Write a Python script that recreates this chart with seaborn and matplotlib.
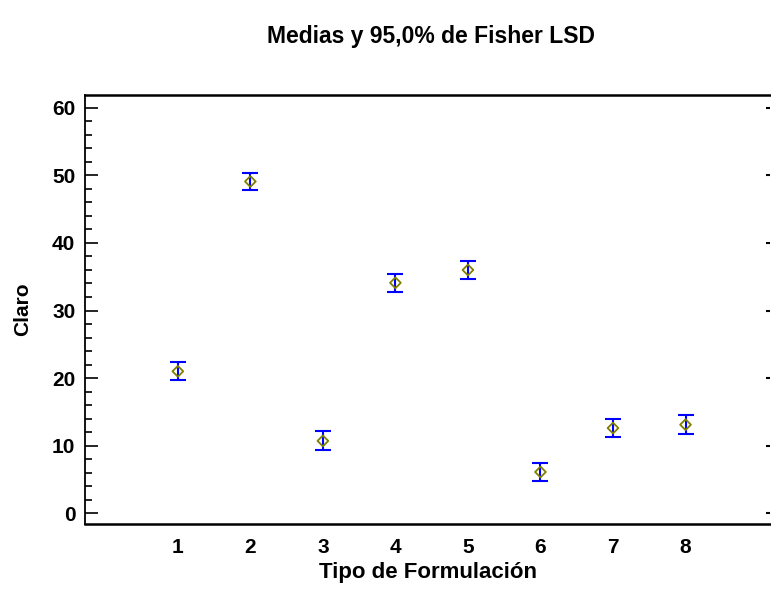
import matplotlib
matplotlib.use("Agg")
import matplotlib.pyplot as plt
import seaborn as sns
import pandas as pd
from matplotlib.ticker import MultipleLocator

tipos = [1, 2, 3, 4, 5, 6, 7, 8]
medias = [21.0, 49.1, 10.7, 34.1, 36.0, 6.1, 12.6, 13.1]
inferior = [19.7, 47.8, 9.3, 32.8, 34.7, 4.8, 11.3, 11.7]
superior = [22.4, 50.4, 12.1, 35.4, 37.4, 7.5, 13.9, 14.5]

df = pd.DataFrame({"Tipo": tipos, "Claro": medias})

sns.set_theme(style="white", rc={"text.color": "black", "axes.labelcolor": "black",
                                 "xtick.color": "black", "ytick.color": "black"})
plt.rcParams['font.family'] = ['Liberation Sans', 'DejaVu Sans']
plt.rcParams['font.weight'] = 'bold'

fig = plt.figure(figsize=(7.71, 5.89), dpi=100)
ax = fig.add_axes([85/771, 1-524/589, 1-85/771-0.0008, (524-95)/589])

lo = [m - l for m, l in zip(medias, inferior)]
hi = [s - m for m, s in zip(medias, superior)]
ax.errorbar(tipos, medias, yerr=[lo, hi], fmt='none', ecolor='#0000ff',
            elinewidth=1.5, capsize=5.5, capthick=1.5, zorder=2)
sns.scatterplot(data=df, x="Tipo", y="Claro", ax=ax, marker='D', s=30,
                facecolor='none', edgecolor='#808000', linewidth=1.3, zorder=3)

ax.set_xlim(-0.28, 9.17)
ax.set_ylim(-1.6, 61.9)
ax.set_xticks(tipos)
ax.set_xticklabels([str(t) for t in tipos])
ax.yaxis.set_major_locator(MultipleLocator(10))
ax.yaxis.set_minor_locator(MultipleLocator(2))
ax.tick_params(axis='x', length=0, labelsize=15, pad=10, colors='black')
ax.tick_params(axis='y', which='major', direction='in', length=9.5, width=1.2,
               labelsize=15, left=True, pad=7, colors='black')
ax.tick_params(axis='y', which='minor', direction='in', length=5, width=1.2, left=True)
for lab in ax.get_xticklabels() + ax.get_yticklabels():
    lab.set_fontweight('bold')

ax2 = ax.twinx()
ax2.set_ylim(ax.get_ylim())
ax2.yaxis.set_major_locator(MultipleLocator(10))
ax2.tick_params(axis='y', direction='in', length=3, width=1.5, labelright=False)
for sp in ax2.spines.values():
    sp.set_visible(False)

ax.spines['right'].set_visible(False)
for s in ['top', 'bottom']:
    ax.spines[s].set_linewidth(1.8)
    ax.spines[s].set_color('black')
ax.spines['left'].set_linewidth(1.3)
ax.spines['left'].set_color('black')

ax.set_xlabel("Tipo de Formulación", fontsize=16, fontweight='bold', labelpad=4)
ax.set_ylabel("Claro", fontsize=15, fontweight='bold', labelpad=14)
fig.text(431/771, 1-37/589, "Medias y 95,0% de Fisher LSD", ha='center', va='center',
         fontsize=16.5, fontweight='bold')

fig.savefig("out.png", dpi=100)
